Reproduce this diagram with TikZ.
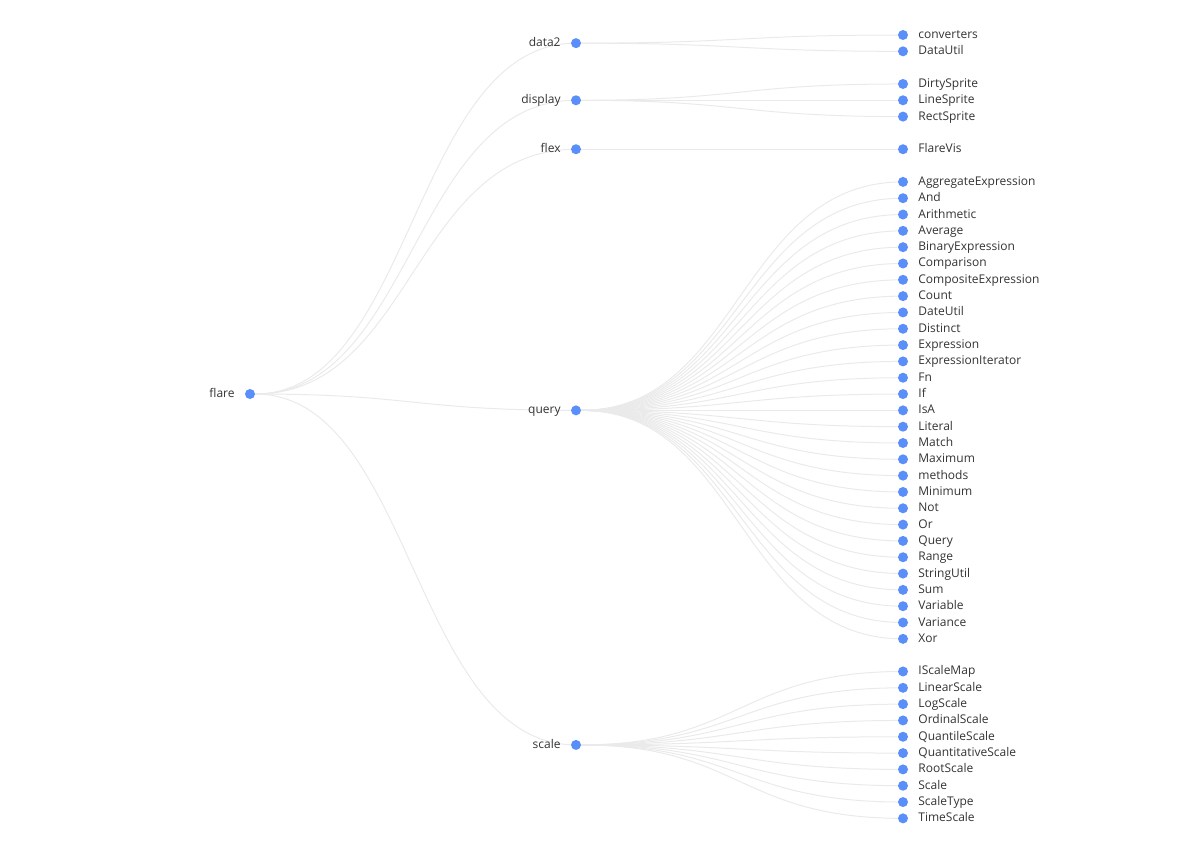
\documentclass[tikz,border=0pt]{standalone}
\usepackage{fontspec}
\setmainfont{Open Sans}
\usetikzlibrary{positioning,calc,backgrounds}

\definecolor{dotblue}{RGB}{90,143,249}
\definecolor{linkgray}{RGB}{234,234,234}
\definecolor{labelgray}{RGB}{51,51,51}

\begin{document}
\begin{tikzpicture}[x=1pt, y=-1pt, label distance=10pt, font=\fontsize{12}{14}\selectfont,
    dot/.style={circle, fill=dotblue, inner sep=0pt, minimum size=10pt},
    link/.style={draw=linkgray, line width=1pt, to path={let \p1=(\tikztostart), \p2=(\tikztotarget) in .. controls ({(\x1+\x2)/2},\y1) and ({(\x1+\x2)/2},\y2) .. (\p2)}},
    every label/.style={text=labelgray, inner sep=0pt, text height=10pt, text depth=3pt}]
    \useasboundingbox (0,0) rectangle (1203,855);

    \node [dot, label=left:flare] (flare) at (250, 394) {};

    \node [dot, label=left:data2] (data2) at (576, {35+0.5*16.32}) {};
    \node [dot, label=left:display] (display) at (576, {35+4*16.32}) {};
    \node [dot, label=left:flex] (flex) at (576, {35+7*16.32}) {};
    \node [dot, label=left:query] (query) at (576, {35+23*16.32}) {};
    \node [dot, label=left:scale] (scale) at (576, {35+43.5*16.32}) {};

    \foreach \n [count=\i from 0] in {converters,DataUtil}
        \node [dot, label=right:\n] (dat\i) at (903, {35+\i*16.32}) {};
    \foreach \n [count=\i from 3] in {DirtySprite,LineSprite,RectSprite}
        \node [dot, label=right:\n] (dis\i) at (903, {35+\i*16.32}) {};
    \node [dot, label=right:FlareVis] (fle7) at (903, {35+7*16.32}) {};
    \foreach \n [count=\i from 9] in {AggregateExpression,And,Arithmetic,Average,BinaryExpression,Comparison,CompositeExpression,Count,DateUtil,Distinct,Expression,ExpressionIterator,Fn,If,IsA,Literal,Match,Maximum,methods,Minimum,Not,Or,Query,Range,StringUtil,Sum,Variable,Variance,Xor}
        \node [dot, label=right:\n] (q\i) at (903, {35+\i*16.32}) {};
    \foreach \n [count=\i from 39] in {IScaleMap,LinearScale,LogScale,OrdinalScale,QuantileScale,QuantitativeScale,RootScale,Scale,ScaleType,TimeScale}
        \node [dot, label=right:\n] (s\i) at (903, {35+\i*16.32}) {};

    \begin{scope}[on background layer]
        \foreach \c in {data2,display,flex,query,scale}
            \draw [link] (flare) to (\c);
        \foreach \i in {0,1}
            \draw [link] (data2) to (dat\i);
        \foreach \i in {3,4,5}
            \draw [link] (display) to (dis\i);
        \draw [link] (flex) to (fle7);
        \foreach \i in {9,...,37}
            \draw [link] (query) to (q\i);
        \foreach \i in {39,...,48}
            \draw [link] (scale) to (s\i);
    \end{scope}
\end{tikzpicture}
\end{document}
